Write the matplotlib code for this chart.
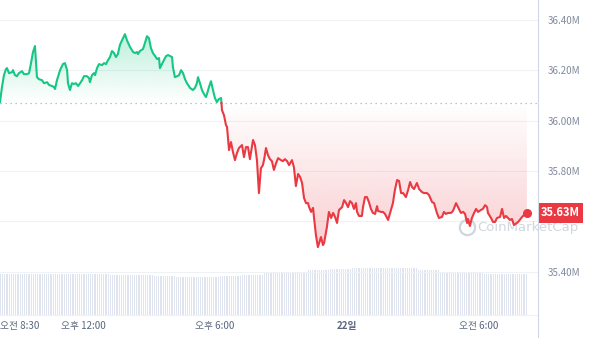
import numpy as np
import matplotlib
matplotlib.use("Agg")
import matplotlib.pyplot as plt
import matplotlib.colors as mcolors
from matplotlib.patches import PathPatch
from matplotlib.path import Path
from matplotlib.lines import Line2D
import matplotlib.transforms as mtransforms

plt.rcParams['font.family'] = ['Noto Sans CJK KR', 'DejaVu Sans']

# --- data -----------------------------------------------------------------
START_HOUR = 8.23          # first sample ~ 08:14 (local)
BASE_PRICE = 36.07         # reference (open) price, dotted line

# hours since start
hours = [
    0.00, 0.09, 0.18, 0.27, 0.32, 0.41, 0.55, 0.59, 0.68, 0.77, 0.86, 1.00, 1.09, 1.23, 1.32,
    1.41, 1.50, 1.59, 1.68, 1.77, 1.91, 2.00, 2.14, 2.23, 2.36, 2.45, 2.50, 2.59, 2.73, 2.86,
    2.95, 3.05, 3.09, 3.18, 3.27, 3.36, 3.45, 3.55, 3.64, 3.73, 3.82, 3.95, 4.05, 4.09, 4.18,
    4.27, 4.32, 4.41, 4.50, 4.64, 4.73, 4.82, 4.91, 5.00, 5.09, 5.18, 5.27, 5.36, 5.45, 5.59,
    5.68, 5.77, 5.91, 6.05, 6.14, 6.23, 6.27, 6.36, 6.50, 6.59, 6.68, 6.77, 6.86, 6.95, 7.05,
    7.14, 7.23, 7.27, 7.36, 7.45, 7.55, 7.64, 7.73, 7.82, 7.86, 7.95, 8.05, 8.14, 8.23, 8.32,
    8.41, 8.50, 8.64, 8.77, 8.86, 8.95, 9.00, 9.09, 9.18, 9.27, 9.36, 9.41, 9.50, 9.59, 9.68,
    9.77, 9.86, 9.95, 10.05,
    10.09, 10.18, 10.27, 10.32, 10.41, 10.50, 10.59, 10.68, 10.77, 10.86, 11.00, 11.09, 11.18,
    11.27, 11.36, 11.50, 11.59, 11.68, 11.77, 11.86, 11.95, 12.00, 12.09, 12.18, 12.27, 12.36,
    12.45, 12.55, 12.64, 12.77, 12.86, 12.95, 13.05, 13.14, 13.27, 13.36, 13.45, 13.55, 13.64,
    13.73, 13.82, 13.91, 14.00, 14.05, 14.14, 14.23, 14.27, 14.36, 14.45, 14.59, 14.68, 14.73,
    14.86, 14.95, 15.05, 15.14, 15.23, 15.32, 15.41, 15.55, 15.64, 15.73, 15.82, 15.91, 16.00,
    16.09, 16.18, 16.23, 16.32, 16.45, 16.50, 16.59, 16.68, 16.77, 16.86, 16.95, 17.05, 17.14,
    17.18, 17.32, 17.41, 17.50, 17.64, 17.73, 17.86, 17.95, 18.05, 18.14, 18.23, 18.32, 18.45,
    18.55, 18.64, 18.73, 18.82, 18.95, 19.05, 19.18, 19.27, 19.41, 19.50, 19.64, 19.73, 19.86,
    19.95, 20.09, 20.18, 20.27, 20.36, 20.50, 20.59, 20.73, 20.82, 20.95, 21.05, 21.14, 21.23,
    21.27, 21.36, 21.45, 21.55, 21.64, 21.73, 21.86, 21.95, 22.05, 22.14, 22.18, 22.32, 22.41,
    22.50, 22.59, 22.73, 22.82, 22.91, 23.00, 23.09, 23.18, 23.27, 23.36, 23.50, 23.59, 23.73,
    23.82, 23.95,
]

# price, millions
price = [
    36.074, 36.134, 36.181, 36.205, 36.209, 36.189, 36.193, 36.201, 36.181, 36.177, 36.189,
    36.197, 36.185, 36.185, 36.189, 36.229, 36.273, 36.297, 36.173, 36.165, 36.161, 36.149,
    36.153, 36.142, 36.138, 36.134, 36.126, 36.161, 36.201, 36.225, 36.229, 36.201, 36.149,
    36.122, 36.149, 36.146, 36.149, 36.138, 36.149, 36.161, 36.177, 36.177, 36.169, 36.153,
    36.181, 36.189, 36.181, 36.209, 36.225, 36.221, 36.229, 36.225, 36.241, 36.253, 36.277,
    36.269, 36.253, 36.265, 36.301, 36.328, 36.344, 36.320, 36.293, 36.273, 36.269, 36.273,
    36.265, 36.277, 36.285, 36.309, 36.336, 36.328, 36.289, 36.269, 36.257, 36.245, 36.249,
    36.209, 36.225, 36.241, 36.257, 36.261, 36.257, 36.253, 36.213, 36.173, 36.177, 36.181,
    36.201, 36.189, 36.165, 36.149, 36.130, 36.122, 36.130, 36.149, 36.173, 36.149, 36.122,
    36.106, 36.094, 36.106, 36.134, 36.157, 36.122, 36.090, 36.074, 36.086, 36.090,
    36.042, 36.022, 35.983, 35.975, 35.883, 35.915, 35.875, 35.843, 35.871, 35.891, 35.903,
    35.855, 35.895, 35.895, 35.847, 35.923, 35.903, 35.843, 35.712, 35.811, 35.823, 35.843,
    35.891, 35.863, 35.847, 35.839, 35.804, 35.831, 35.851, 35.843, 35.839, 35.847, 35.839,
    35.823, 35.843, 35.815, 35.740, 35.788, 35.776, 35.752, 35.692, 35.672, 35.672, 35.656,
    35.637, 35.653, 35.617, 35.545, 35.497, 35.537, 35.505, 35.513, 35.577, 35.637, 35.613,
    35.633, 35.617, 35.593, 35.645, 35.656, 35.684, 35.672, 35.656, 35.680, 35.672, 35.649,
    35.672, 35.637, 35.621, 35.621, 35.656, 35.696, 35.696, 35.676, 35.649, 35.633, 35.629,
    35.660, 35.641, 35.637, 35.637, 35.629, 35.605, 35.633, 35.672, 35.724, 35.764, 35.760,
    35.712, 35.712, 35.696, 35.724, 35.756, 35.736, 35.728, 35.752, 35.728, 35.716, 35.712,
    35.712, 35.704, 35.676, 35.672, 35.633, 35.613, 35.617, 35.637, 35.629, 35.633, 35.633,
    35.641, 35.672, 35.656, 35.633, 35.637, 35.629, 35.593, 35.609, 35.581, 35.613, 35.633,
    35.649, 35.637, 35.645, 35.649, 35.664, 35.656, 35.633, 35.613, 35.597, 35.597, 35.613,
    35.617, 35.649, 35.613, 35.621, 35.613, 35.605, 35.609, 35.585, 35.593, 35.601, 35.617,
    35.625, 35.633,
]

# hourly volume (arbitrary units), drawn as 5-minute bars
volume_hourly = [20.5, 20.5, 20.5, 20.5, 20.5, 20.0, 19.8, 19.5, 18.8, 19.0, 19.3, 19.8,
                 20.8, 21.5, 22.3, 22.8, 23.3, 23.5, 23.5, 22.5, 21.5, 21.0, 20.5, 20.5]

y_ticks = [35.40, 35.60, 35.80, 36.00, 36.20, 36.40]
# 35.60M sits under the current-price badge, so it is left blank
y_tick_labels = ['35.40M', '', '35.80M', '36.00M', '36.20M', '36.40M']
x_tick_clock = [8.5, 12, 18, 24, 30]
x_tick_labels = ['오전 8:30', '오후 12:00', '오후 6:00', '22일', '오전 6:00']

GREEN = '#16c784'
RED = '#ea3943'
GRID = '#eff2f5'
TEXT = '#808a9d'

t = np.array(hours)
p = np.array(price)


def gradient_fill(ax, x, y, base, color, where, far, alpha_far):
    poly = ax.fill_between(x, y, base, where=where, interpolate=True,
                           facecolor='none', edgecolor='none')
    path = Path.make_compound_path(*poly.get_paths())
    lo, hi = min(base, far), max(base, far)
    n = 200
    img = np.zeros((n, 1, 4))
    img[:, :, :3] = mcolors.to_rgb(color)
    a = np.linspace(0, 1, n)
    if far > base:
        img[:, 0, 3] = a * alpha_far
    else:
        img[:, 0, 3] = (1 - a) * alpha_far
    im = ax.imshow(img, aspect='auto', origin='lower', interpolation='bilinear',
                   extent=[x.min(), x.max(), lo, hi], zorder=1)
    patch = PathPatch(path, transform=ax.transData, facecolor='none', edgecolor='none')
    ax.add_patch(patch)
    im.set_clip_path(patch)


fig = plt.figure(figsize=(5.9, 3.38), dpi=100)
rect = [0, 23 / 338, 538 / 590, 315 / 338]

# volume axes (behind)
axv = fig.add_axes(rect)
vol = np.repeat(volume_hourly, 12)
tv = np.arange(len(vol)) / 12.0
axv.bar(tv, vol, width=0.05, align='edge', color='#e0e4ee', linewidth=0)
axv.set_xlim(0, 538 / 22)
axv.set_ylim(0, 157.5)
axv.axis('off')

# price axes
ax = fig.add_axes(rect, sharex=axv)
ax.patch.set_alpha(0)
ax.set_ylim(35.227, 36.480)

for yv in y_ticks:
    ax.axhline(yv, color=GRID, lw=0.8, zorder=0)

gradient_fill(ax, t, p, BASE_PRICE, GREEN, p >= BASE_PRICE, p.max(), 0.28)
gradient_fill(ax, t, p, BASE_PRICE, RED, p <= BASE_PRICE, p.min(), 0.25)

# split line into green (above base) / red (below base)
k = int(np.argmax(p < BASE_PRICE))
tc = t[k - 1] + (BASE_PRICE - p[k - 1]) / (p[k] - p[k - 1]) * (t[k] - t[k - 1])
ax.plot(np.append(t[:k], tc), np.append(p[:k], BASE_PRICE), color=GREEN, lw=1.5,
        zorder=3, solid_joinstyle='round')
ax.plot(np.insert(t[k:], 0, tc), np.insert(p[k:], 0, BASE_PRICE), color=RED, lw=1.5,
        zorder=3, solid_joinstyle='round')
ax.plot(t[-1], p[-1], 'o', color=RED, ms=5.5, zorder=4)

ax.axhline(BASE_PRICE, color='#a6b0c3', lw=0.9, ls=(0, (1, 3)), zorder=2)

ax.set_xlim(0, 538 / 22)
ax.set_ylim(35.227, 36.480)

# axes styling
for s in ['top', 'left', 'right']:
    ax.spines[s].set_visible(False)
ax.spines['bottom'].set_color(GRID)
ax.spines['bottom'].set_linewidth(0.8)

ax.yaxis.tick_right()
ax.set_yticks(y_ticks)
ax.set_yticklabels(y_tick_labels)
ax.tick_params(axis='y', length=0, pad=7, labelsize=7, labelcolor=TEXT)

ax.set_xticks([h - START_HOUR for h in x_tick_clock])
ax.set_xticklabels(x_tick_labels)
ax.tick_params(axis='x', length=0, pad=4, labelsize=7, labelcolor='#58667e')
xl = ax.get_xticklabels()
xl[0].set_horizontalalignment('left')
xl[0].set_transform(xl[0].get_transform() + mtransforms.ScaledTranslation(-6 / 100, 0, fig.dpi_scale_trans))
xl[3].set_fontweight('bold')

# right-hand axis line
fig.add_artist(Line2D([538 / 590, 538 / 590], [0, 1], color='#cfd6e4', lw=0.8))

# current price badge
badge = ax.text(1.0, p[-1], f'{p[-1]:.2f}M', transform=ax.get_yaxis_transform(),
                ha='left', va='center', fontsize=8, color='white', fontweight='bold',
                bbox=dict(boxstyle='square,pad=0.3', fc=RED, ec='none'), clip_on=False, zorder=6)
badge.set_transform(badge.get_transform() + mtransforms.ScaledTranslation(3 / 100, 0, fig.dpi_scale_trans))

# watermark
ax.text(0.888, 0.279, 'CoinMarketCap', transform=ax.transAxes, ha='left', va='center',
        fontsize=9.5, color='#c9ced8', alpha=0.85, zorder=2, clip_on=False,
        family=['DejaVu Sans'])
ax.plot([0.868], [0.279], 'o', transform=ax.transAxes, ms=11, mfc='none', mec='#c9ced8',
        mew=1.6, alpha=0.85, clip_on=False, zorder=2)

fig.savefig('out.png', dpi=100)
